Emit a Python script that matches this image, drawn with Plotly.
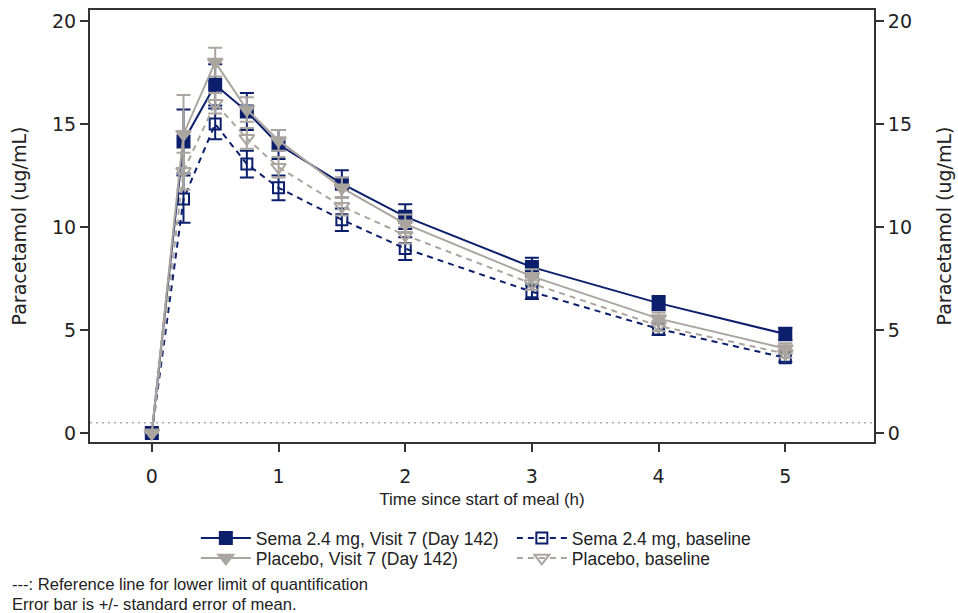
import plotly.graph_objects as go

# ---- data ----
time_h = [0, 0.25, 0.5, 0.75, 1, 1.5, 2, 3, 4, 5]

sema_v7 = [0, 14.15, 16.9, 15.6, 14.0, 12.1, 10.5, 8.05, 6.3, 4.8]
sema_v7_se = [0, 1.55, 1.0, 0.9, 0.7, 0.65, 0.6, 0.45, 0.35, 0.3]

sema_bl = [0, 11.35, 15.0, 13.05, 11.9, 10.35, 8.95, 6.85, 5.05, 3.65]
sema_bl_se = [0, 1.15, 0.75, 0.65, 0.6, 0.55, 0.55, 0.35, 0.3, 0.2]

placebo_v7 = [0, 14.5, 18.0, 15.7, 14.2, 11.9, 10.15, 7.6, 5.55, 4.1]
placebo_v7_se = [0, 1.9, 0.7, 0.6, 0.5, 0.5, 0.45, 0.35, 0.3, 0.25]

placebo_bl = [0, 12.7, 16.0, 14.3, 12.9, 11.0, 9.6, 7.25, 5.2, 3.85]
placebo_bl_se = [0, 0.9, 0.5, 0.5, 0.5, 0.45, 0.4, 0.3, 0.25, 0.2]

lloq = 0.5
x_ticks = [0, 1, 2, 3, 4, 5]
y_ticks = [0, 5, 10, 15, 20]

NAVY = "#0b1f6c"
GRAY = "#aaa59f"

fig = go.Figure()


def add(name, y, se, color, symbol, dash, size, legend):
    fig.add_trace(go.Scatter(
        x=time_h, y=y, name=name, mode="lines+markers", legend=legend,
        line=dict(color=color, width=2, dash=dash),
        marker=dict(symbol=symbol, size=size, color=color,
                    line=dict(color=color, width=2)),
        error_y=dict(type="data", array=se, visible=True, color=color,
                     thickness=2, width=7),
    ))


add("Sema 2.4 mg, Visit 7 (Day 142)", sema_v7, sema_v7_se, NAVY, "square", "solid", 12, "legend")
add("Sema 2.4 mg, baseline", sema_bl, sema_bl_se, NAVY, "square-open", "6px,5px", 11, "legend")
add("Placebo, Visit 7 (Day 142)", placebo_v7, placebo_v7_se, GRAY, "triangle-down", "solid", 13, "legend2")
add("Placebo, baseline", placebo_bl, placebo_bl_se, GRAY, "triangle-down-open", "6px,5px", 13, "legend2")

# invisible helper trace so the right-hand axis is drawn
fig.add_trace(go.Scatter(x=[None], y=[None], yaxis="y2", showlegend=False,
                         hoverinfo="skip"))

fig.add_shape(type="line", xref="paper", x0=0, x1=1, yref="y", y0=lloq, y1=lloq,
              line=dict(color="#aaaaaa", width=1.5, dash="2px,4px"), layer="below")

YR = [-0.44, 20.53]
tickfont = dict(family="DejaVu Sans", size=19, color="#222")
titlefont = dict(family="DejaVu Sans", size=19, color="#222")
legfont = dict(family="Liberation Sans", size=17.5, color="#222")

common_leg = dict(orientation="h", x=0.135, xanchor="left", yanchor="top",
                  entrywidth=251, entrywidthmode="pixels", itemwidth=50,
                  font=legfont, bgcolor="rgba(0,0,0,0)")

fig.update_layout(
    width=958, height=613,
    margin=dict(l=90, r=84, t=10, b=171, autoexpand=False),
    plot_bgcolor="white", paper_bgcolor="white",
    xaxis=dict(range=[-0.488, 5.70], tickvals=x_ticks, ticks="outside",
               ticklen=8, tickwidth=2, tickcolor="#333", showgrid=False,
               zeroline=False, showline=True, linecolor="#333", linewidth=2,
               mirror=True, tickfont=tickfont, ticklabelstandoff=8,
               automargin=False,
               title=dict(text="Time since start of meal (h)", standoff=7,
                          font=dict(family="Liberation Sans", size=17, color="#222"))),
    yaxis=dict(range=YR, tickvals=y_ticks, ticks="outside", ticklen=8,
               tickwidth=2, tickcolor="#333", showgrid=False, zeroline=False,
               showline=True, linecolor="#333", linewidth=2, mirror=True,
               tickfont=tickfont, automargin=False,
               title=dict(text="Paracetamol (ug/mL)", font=titlefont, standoff=20)),
    yaxis2=dict(range=YR, tickvals=y_ticks, overlaying="y", side="right",
                ticks="outside", ticklen=8, tickwidth=2, tickcolor="#333",
                showgrid=False, zeroline=False, showline=True, linecolor="#333",
                linewidth=2, tickfont=tickfont, automargin=False,
                title=dict(text="Paracetamol (ug/mL)", font=titlefont, standoff=27)),
    legend=dict(y=-(520 - 442) / 432, **common_leg),
    legend2=dict(y=-(540 - 442) / 432, **common_leg),
    showlegend=True,
)

notes = ["---: Reference line for lower limit of quantification",
         "Error bar is +/- standard error of mean."]
for i, t in enumerate(notes):
    fig.add_annotation(text=t, xref="paper", yref="paper",
                       x=(10 - 90) / 784, y=(442 - (584 + 20 * i)) / 432,
                       xanchor="left", yanchor="middle", showarrow=False,
                       font=dict(family="Liberation Sans", size=16.6, color="#222"))

fig.write_html("out.html")
